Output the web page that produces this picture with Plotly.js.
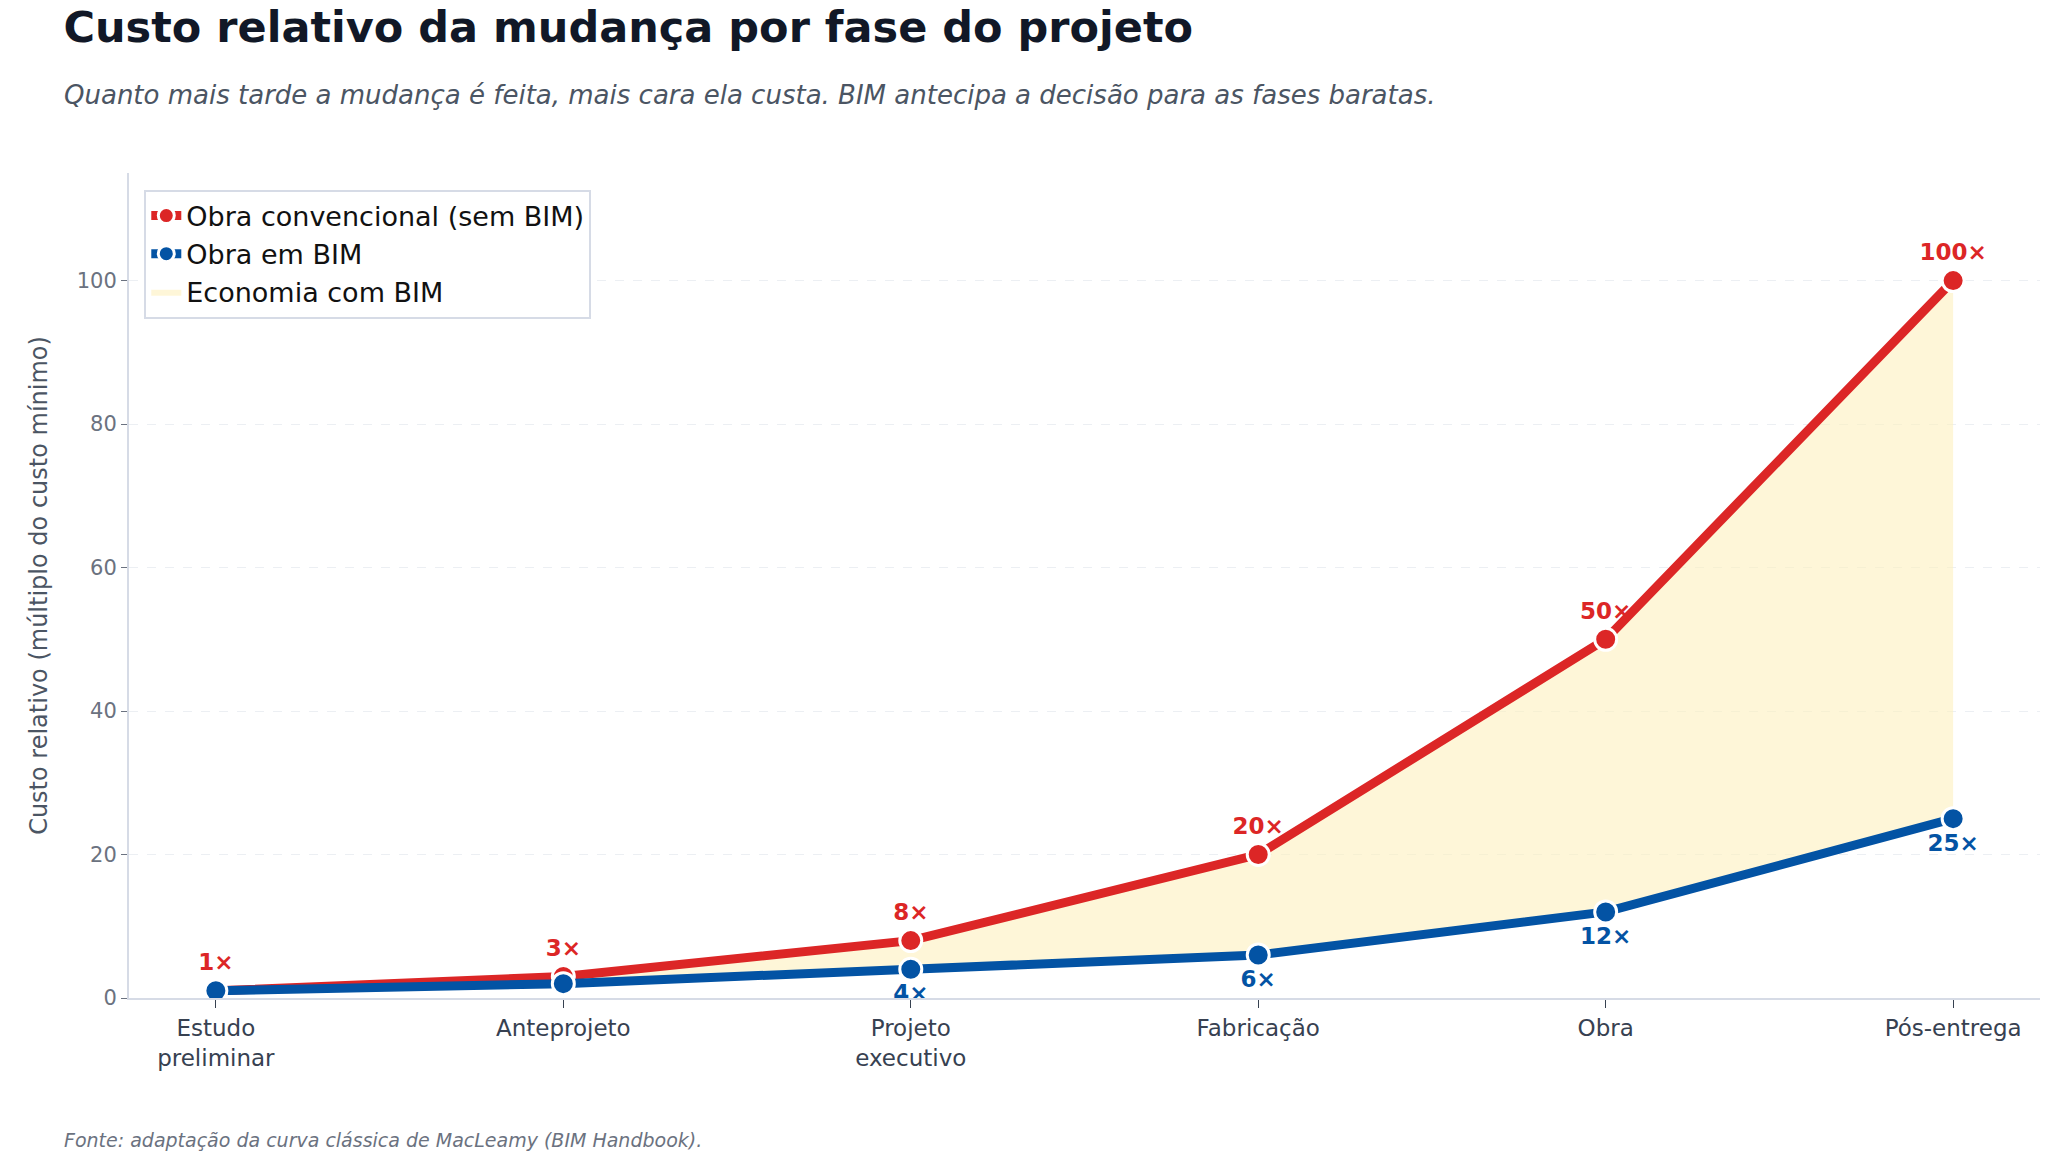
<!DOCTYPE html>
<html>
<head>
<meta charset="utf-8">
<script src="https://cdn.plot.ly/plotly-3.0.1.min.js"></script>
<style>body{margin:0;background:#fff}</style>
</head>
<body>
<div id="myDiv" style="width:2047px;height:1167px"></div>
<script>
const phases = ['Estudo<br>preliminar', 'Anteprojeto', 'Projeto<br>executivo', 'Fabricação', 'Obra', 'Pós-entrega'];
const convCost = [1, 3, 8, 20, 50, 100];
const bimCost = [1, 2, 4, 6, 12, 25];
const x = phases.map((p, i) => i);
const font = 'DejaVu Sans, sans-serif';

const traces = [
  {x: x, y: bimCost, mode: 'lines', line: {width: 0}, showlegend: false, hoverinfo: 'skip'},
  {x: x, y: convCost, mode: 'lines', line: {width: 0}, fill: 'tonexty',
   fillcolor: 'rgba(254,240,190,0.6)', name: 'Economia com BIM', legendrank: 3},
  {x: x, y: convCost, mode: 'lines+markers+text', name: 'Obra convencional (sem BIM)', legendrank: 1,
   line: {color: '#dc2626', width: 9},
   marker: {size: 22, color: '#dc2626', line: {color: '#fff', width: 3}},
   text: convCost.map(v => '<b>' + v + '×</b>'), textposition: 'top center',
   textfont: {color: '#dc2626', size: 23, family: font}},
  {x: x, y: bimCost, mode: 'lines+markers+text', name: 'Obra em BIM', legendrank: 2,
   line: {color: '#0353a4', width: 9},
   marker: {size: 22, color: '#0353a4', line: {color: '#fff', width: 3}},
   text: bimCost.map(v => '<b>' + v + '×</b>'), textposition: 'bottom center',
   textfont: {color: '#0353a4', size: 23, family: font}}
];

const layout = {
  width: 2047, height: 1167,
  margin: {l: 129, r: 7, t: 173, b: 169},
  font: {family: font},
  paper_bgcolor: '#fff', plot_bgcolor: '#fff',
  title: {text: '<b>Custo relativo da mudança por fase do projeto</b>', x: 0.031, xanchor: 'left', y: 0.99, yanchor: 'top',
    font: {size: 43, color: '#111827', family: font}},
  xaxis: {
    range: [-0.25, 5.25], tickvals: x, ticktext: phases, showgrid: false, zeroline: false,
    showline: true, linecolor: '#d6dbe6', linewidth: 2, ticks: 'outside', ticklen: 8, tickcolor: '#374151',
    tickfont: {size: 23, color: '#374151'}
  },
  yaxis: {
    range: [0, 115], dtick: 20, showgrid: true, gridcolor: '#eceff3', griddash: 'dash', zeroline: false,
    showline: true, linecolor: '#d6dbe6', linewidth: 2, ticks: 'outside', ticklen: 6, tickcolor: '#6b7280',
    tickfont: {size: 21, color: '#6b7280'},
    title: {text: 'Custo relativo (múltiplo do custo mínimo)', font: {size: 24, color: '#4b5563'}, standoff: 22}
  },
  legend: {x: 0.008, y: 0.98, xanchor: 'left', yanchor: 'top', bgcolor: '#fff', bordercolor: '#d6dbe6', borderwidth: 2,
    traceorder: 'normal', font: {size: 27, color: '#111'}},
  annotations: [
    {text: '<i>Quanto mais tarde a mudança é feita, mais cara ela custa. BIM antecipa a decisão para as fases baratas.</i>',
     xref: 'paper', yref: 'paper', x: -0.035, y: 1.095, xanchor: 'left', yanchor: 'middle', showarrow: false,
     font: {size: 26, color: '#4b5563'}},
    {text: '<i>Fonte: adaptação da curva clássica de MacLeamy (BIM Handbook).</i>',
     xref: 'paper', yref: 'paper', x: -0.035, y: -0.172, xanchor: 'left', yanchor: 'middle', showarrow: false,
     font: {size: 19, color: '#6b7280'}}
  ]
};
Plotly.newPlot('myDiv', traces, layout, {displayModeBar: false});
</script>
</body>
</html>
